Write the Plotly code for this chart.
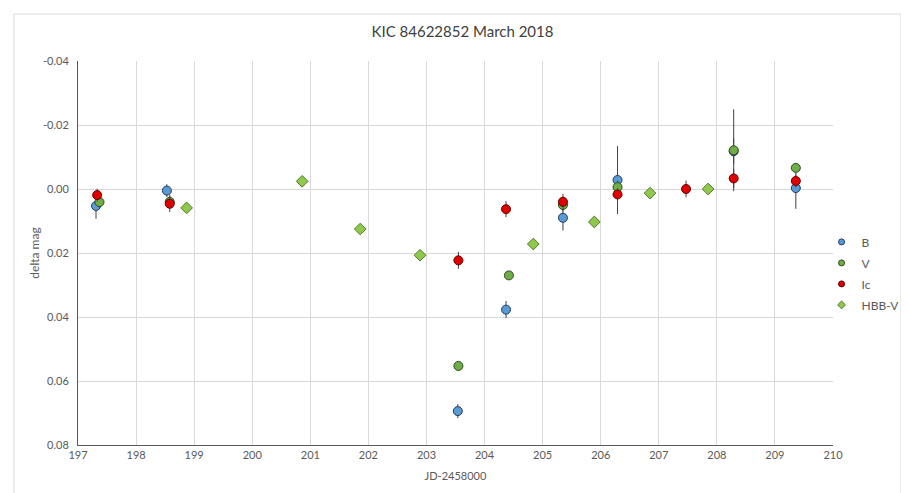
import plotly.graph_objects as go

# ---- data ----
b_jd = [197.31, 198.53, 203.54, 204.37, 205.35, 206.29, 208.29, 209.36]
b_mag = [0.0053, 0.0005, 0.0694, 0.0377, 0.0090, -0.0028, -0.0118, -0.0003]
b_err = [0.0040, 0.0020, 0.0022, 0.0027, 0.0040, 0.0106, 0.0040, 0.0065]

v_jd = [197.37, 198.58, 203.55, 204.42, 205.35, 206.29, 208.29, 209.36]
v_mag = [0.0041, 0.0040, 0.0553, 0.0270, 0.0050, -0.0006, -0.0121, -0.0066]
v_err = [0.0020, 0.0020, 0.0010, 0.0010, 0.0020, 0.0020, 0.0128, 0.0015]

ic_jd = [197.33, 198.58, 203.55, 204.37, 205.35, 206.29, 207.47, 208.29, 209.36]
ic_mag = [0.0019, 0.0046, 0.0223, 0.0063, 0.0040, 0.0017, 0.0000, -0.0033, -0.0025]
ic_err = [0.0020, 0.0026, 0.0026, 0.0025, 0.0025, 0.0020, 0.0026, 0.0030, 0.0020]

hbb_jd = [198.87, 200.86, 201.86, 202.89, 204.84, 205.89, 206.85, 207.85]
hbb_mag = [0.0059, -0.0024, 0.0125, 0.0207, 0.0172, 0.0103, 0.0013, 0.0000]

x_ticks = list(range(197, 211))
y_ticks = [-0.04, -0.02, 0.00, 0.02, 0.04, 0.06, 0.08]
y_tick_labels = ["-0.04", "-0.02", "0.00", "0.02", "0.04", "0.06", "0.08"]

title_text = "KIC 84622852 March 2018"
x_title = "JD-2458000"
y_title = "delta mag"

FONT = "Liberation Sans Narrow, Lato, sans-serif"
ERRC = "#404040"

STYLES = {
    "B": dict(symbol="circle", color="#5B9BD5", line=dict(color="#1F3A5F", width=1)),
    "V": dict(symbol="circle", color="#70AD47", line=dict(color="#2E4B1C", width=1)),
    "Ic": dict(symbol="circle", color="#E00000", line=dict(color="#600000", width=1)),
    "HBB-V": dict(symbol="diamond", color="#92C74E", line=dict(color="#4E7A2A", width=1)),
}

fig = go.Figure()


def add_series(name, x, y, err, size):
    kw = {}
    if err is not None:
        kw["error_y"] = dict(type="data", array=err, visible=True, color=ERRC,
                             thickness=1, width=0)
    fig.add_trace(go.Scatter(
        x=x, y=y, mode="markers", name=name, showlegend=False,
        legendgroup=name, marker=dict(size=size, **STYLES[name]), **kw))


add_series("B", b_jd, b_mag, b_err, 9)
add_series("V", v_jd, v_mag, v_err, 9)
add_series("Ic", ic_jd, ic_mag, ic_err, 9)
add_series("HBB-V", hbb_jd, hbb_mag, None, 9)

# small legend symbols (legend-only entries, no data drawn)
for name in ["B", "V", "Ic", "HBB-V"]:
    fig.add_trace(go.Scatter(
        x=[None], y=[None], mode="markers", name=name, showlegend=True,
        legendgroup=name, marker=dict(size=6, **STYLES[name])))

fig.update_layout(
    width=909, height=493,
    margin=dict(l=70, r=84, t=53, b=56, autoexpand=False),
    paper_bgcolor="white", plot_bgcolor="white",
    font=dict(family=FONT, size=11, color="#595959"),
    title=dict(text=title_text, x=0.5, xanchor="center", y=0.951,
               yanchor="middle", xref="container", yref="container",
               font=dict(family=FONT, size=15, color="#404040")),
    showlegend=True,
    legend=dict(xref="container", yref="container",
                x=0.895, xanchor="left", y=0.555, yanchor="top",
                font=dict(family=FONT, size=12, color="#595959"),
                bgcolor="rgba(0,0,0,0)", itemwidth=30, tracegroupgap=2),
    xaxis=dict(range=[197, 210], tickvals=x_ticks, showgrid=True,
               gridcolor="#D9D9D9", gridwidth=1, zeroline=False,
               showline=True, linecolor="#595959", linewidth=1,
               ticks="", title=dict(text=x_title, standoff=12,
                                    font=dict(size=11, color="#595959"))),
    yaxis=dict(range=[0.08, -0.04], tickvals=y_ticks, ticktext=y_tick_labels,
               showgrid=True, gridcolor="#D9D9D9", gridwidth=1,
               zeroline=False, showline=True, linecolor="#595959",
               linewidth=1, ticks="", ticklabelstandoff=6,
               title=dict(text=y_title, standoff=0,
                          font=dict(size=12, color="#595959"))),
)

fig.add_shape(type="rect", xref="paper", yref="paper",
              x0=-0.0848, x1=1.0900, y0=-0.15, y1=1.1224,
              line=dict(color="#D9D9D9", width=1), fillcolor="rgba(0,0,0,0)",
              layer="below")

fig.write_html("out.html")
